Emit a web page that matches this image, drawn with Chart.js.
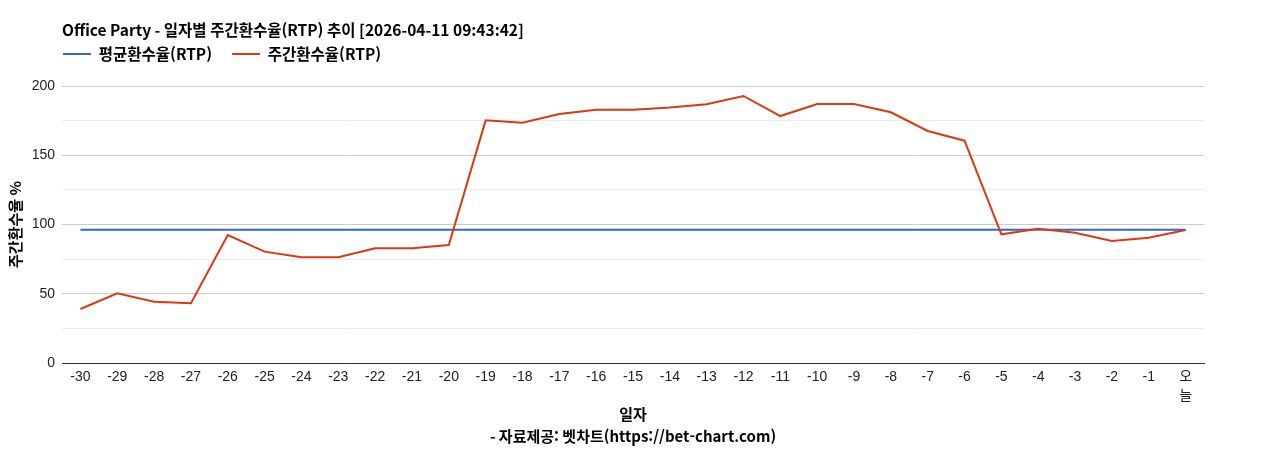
<!DOCTYPE html>
<html lang="ko">
<head>
<meta charset="utf-8">
<title>Office Party RTP</title>
<script src="https://cdn.jsdelivr.net/npm/chart.js@4.4.1/dist/chart.umd.min.js"></script>
<style>
  html, body { margin: 0; padding: 0; background: #fff; }
  #wrap { width: 1268px; height: 450px; position: relative; }
</style>
</head>
<body>
<div id="wrap"><canvas id="myChart"></canvas></div>
<script>
const chartTitle = "Office Party - 일자별 주간환수율(RTP) 추이 [2026-04-11 09:43:42]";

const categories = ["-30", "-29", "-28", "-27", "-26", "-25", "-24", "-23", "-22", "-21",
  "-20", "-19", "-18", "-17", "-16", "-15", "-14", "-13", "-12", "-11",
  "-10", "-9", "-8", "-7", "-6", "-5", "-4", "-3", "-2", "-1", "오늘"];

// 평균환수율 (flat line)
const avgRtp = [96.2, 96.2, 96.2, 96.2, 96.2, 96.2, 96.2, 96.2, 96.2, 96.2,
  96.2, 96.2, 96.2, 96.2, 96.2, 96.2, 96.2, 96.2, 96.2, 96.2,
  96.2, 96.2, 96.2, 96.2, 96.2, 96.2, 96.2, 96.2, 96.2, 96.2, 96.2];

// 주간환수율
const weeklyRtp = [39.0, 50.3, 44.3, 43.1, 92.4, 80.4, 76.3, 76.3, 82.8, 82.8,
  85.2, 175.2, 173.5, 179.8, 182.9, 182.9, 184.4, 186.8, 192.8, 178.3,
  187.0, 187.0, 181.0, 167.5, 160.5, 92.9, 97.0, 94.1, 88.1, 90.5, 96.0];

const yTicks = [0, 50, 100, 150, 200];

const korFont = "'Noto Sans CJK KR', 'Noto Sans', sans-serif";
const tickFont = "'Liberation Sans', Arial, 'Noto Sans CJK KR', sans-serif";

Chart.defaults.font.family = tickFont;
Chart.defaults.color = "#222";

// title + legend sit over the plot's left edge, like the original
const alignHeader = {
  id: "alignHeader",
  beforeDraw(chart) {
    const left = chart.chartArea.left;
    if (chart.titleBlock) chart.titleBlock.left = left;
    if (chart.legend) {
      chart.legend.left = left - chart.legend.options.labels.padding + 1;
      chart.legend.top = 26.25;
    }
  }
};

const ctx = document.getElementById("myChart").getContext("2d");
const myChart = new Chart(ctx, {
  type: "line",
  data: {
    labels: categories,
    datasets: [
      {
        label: "평균환수율(RTP)",
        data: avgRtp,
        borderColor: "#3366cc",
        backgroundColor: "#3366cc",
        borderWidth: 2,
        pointRadius: 0,
        tension: 0,
        order: 2
      },
      {
        label: "주간환수율(RTP)",
        data: weeklyRtp,
        borderColor: "#dc3912",
        backgroundColor: "#dc3912",
        borderWidth: 2,
        pointRadius: 0,
        tension: 0,
        order: 1
      }
    ]
  },
  options: {
    responsive: true,
    maintainAspectRatio: false,
    animation: false,
    layout: { padding: { left: 0, right: 64, top: 0, bottom: 2 } },
    plugins: {
      title: {
        display: true,
        text: chartTitle,
        align: "start",
        color: "#000",
        font: { family: korFont, size: 15.5, weight: "bold", lineHeight: 1.2 },
        padding: { top: 20.7, bottom: 1.2 }
      },
      legend: {
        display: true,
        align: "start",
        labels: {
          usePointStyle: true,
          pointStyle: "line",
          pointStyleWidth: 28,
          padding: 20,
          color: "#000",
          font: { family: korFont, size: 15.5, weight: "bold" },
          sort: (a, b) => a.datasetIndex - b.datasetIndex
        }
      },
      tooltip: { enabled: false }
    },
    scales: {
      x: {
        offset: true,
        afterFit: (scale) => { scale.height = 85; },
        grid: { display: true, drawOnChartArea: false, drawTicks: false },
        border: { display: true, color: "#333", width: 1 },
        ticks: {
          autoSkip: false,
          maxRotation: 0,
          padding: 5,
          color: "#222",
          font: { size: 14, lineHeight: 1.35 },
          callback: function (value) {
            const lab = this.getLabelForValue(value);
            return lab.length > 1 && !lab.startsWith("-") ? lab.split("") : lab;
          }
        },
        title: {
          display: true,
          text: ["일자", "- 자료제공: 벳차트(https://bet-chart.com)"],
          color: "#000",
          font: { family: korFont, size: 15, weight: "bold", lineHeight: 1.5 },
          padding: { top: 0, bottom: 0 }
        }
      },
      y: {
        min: 0,
        max: 200,
        afterFit: (scale) => { scale.width = 62; },
        grid: {
          drawTicks: false,
          color: (c) => c.tick.value === 0 ? "#333" : (c.tick.value % 50 === 0 ? "#cccccc" : "#ebebeb")
        },
        border: { display: false },
        ticks: {
          stepSize: 25,
          padding: 7,
          color: "#222",
          font: { size: 14 },
          callback: (v) => yTicks.includes(v) ? v : ""
        },
        title: {
          display: true,
          text: "주간환수율 %",
          color: "#000",
          font: { family: korFont, size: 15, weight: "bold", lineHeight: 1.2 },
          padding: { top: 6.4, bottom: 0 }
        }
      }
    }
  },
  plugins: [alignHeader]
});
</script>
</body>
</html>
